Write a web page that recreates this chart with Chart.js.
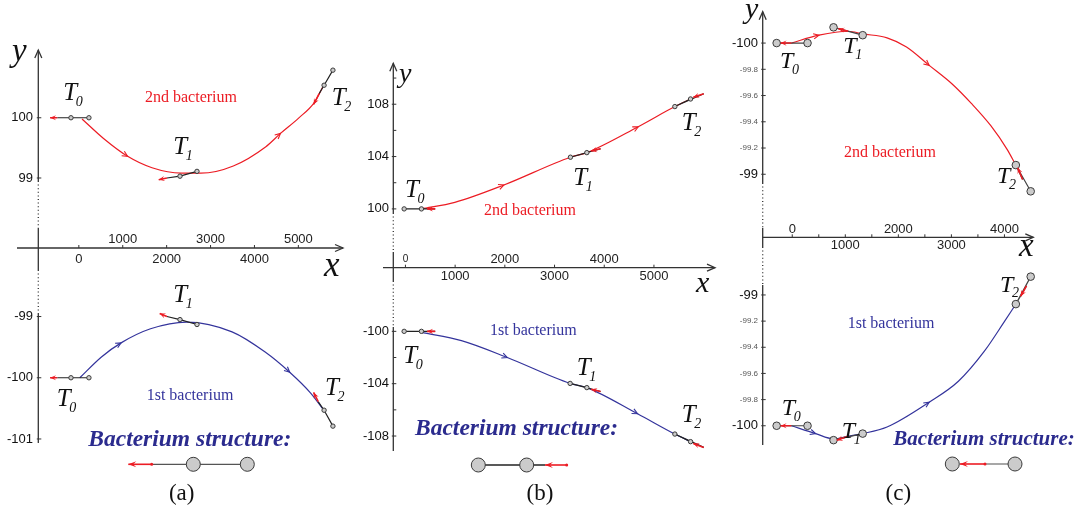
<!DOCTYPE html>
<html><head><meta charset="utf-8">
<script src="https://cdn.jsdelivr.net/npm/chart.js@4.4.1/dist/chart.umd.min.js"></script>
<style>
html,body{margin:0;padding:0;background:#fff;}
#wrap{position:relative;width:1080px;height:512px;overflow:hidden;}
canvas{position:absolute;top:0;}
</style></head><body>
<div id="wrap">
<canvas id="ca" width="360" height="512" style="left:0px"></canvas>
<canvas id="cb" width="360" height="512" style="left:360px"></canvas>
<canvas id="cc" width="360" height="512" style="left:720px"></canvas>
</div>
<script>
// ---------------- DATA ----------------
// Panel (a)
const aXTicks = [0, 1000, 2000, 3000, 4000, 5000];
const aXLabels = ['0', '1000', '2000', '3000', '4000', '5000'];
const aXAbove = [1000, 3000, 5000];
const aYTopTicks = [100, 99];
const aYTopLabels = ['100', '99'];
const aYBotTicks = [-99, -100, -101];
const aYBotLabels = ['-99', '-100', '-101'];
const aRedX = [73, 556, 1111, 1667, 2333, 2778, 3518, 4260, 4593, 5000, 5371, 5556];
const aRedY = [99.98, 99.66, 99.36, 99.17, 99.08, 99.08, 99.20, 99.52, 99.74, 99.99, 100.26, 100.51];
const aBlueX = [22, 515, 962, 1633, 2454, 3490, 4244, 4803, 5280, 5548];
const aBlueY = [-100.0, -99.66, -99.43, -99.20, -99.09, -99.25, -99.58, -99.91, -100.25, -100.50];
const aTopCellX = [[-179, 230], [2304, 2691], [5586, 5787]];
const aTopCellY = [[100, 100], [99.03, 99.11], [100.54, 100.79]];
const aTopFlagX = [[-492, -655], [2007, 1819], [5474, 5347]];
const aTopFlagY = [[100, 100], [99.0, 98.97], [100.4, 100.22]];
const aBotCellX = [[-179, 230], [2304, 2691], [5586, 5787]];
const aBotCellY = [[-100, -100], [-99.05, -99.13], [-100.53, -100.79]];
const aBotFlagX = [[-492, -655], [2007, 1841], [5452, 5347]];
const aBotFlagY = [[-100, -100], [-99.0, -98.95], [-100.39, -100.24]];

// Panel (b)
const bXTicks = [0, 1000, 2000, 3000, 4000, 5000];
const bXLabels = ['0', '1000', '2000', '3000', '4000', '5000'];
const bXAbove = [0, 2000, 4000];
const bYTopTicks = [100, 104, 108];
const bYTopLabels = ['100', '104', '108'];
const bYTopMinor = [102, 106, 110];
const bYBotTicks = [-100, -104, -108];
const bYBotLabels = ['-100', '-104', '-108'];
const bYBotMinor = [-102, -106];
const bRedX = [322, 994, 1982, 3320, 3650, 4684, 5421, 5737];
const bRedY = [100, 100.5, 101.83, 103.95, 104.3, 106.28, 107.82, 108.4];
const bBlueX = [322, 1126, 2049, 3314, 3650, 4670, 5421, 5737];
const bBlueY = [-100.08, -100.71, -102.0, -103.98, -104.3, -106.3, -107.85, -108.43];
const bTopCellX = [[-26, 322], [3320, 3650], [5421, 5737]];
const bTopCellY = [[100, 100], [103.95, 104.3], [107.82, 108.4]];
const bTopFlagX = [[599, 435], [3927, 3735], [6002, 5791]];
const bTopFlagY = [[100, 100], [104.6, 104.42], [108.8, 108.53]];
const bBotCellX = [[-26, 322], [3314, 3650], [5421, 5737]];
const bBotCellY = [[-100, -100], [-103.98, -104.3], [-107.85, -108.43]];
const bBotFlagX = [[599, 435], [3927, 3735], [6002, 5791]];
const bBotFlagY = [[-100, -100], [-104.6, -104.43], [-108.87, -108.58]];

// Panel (c)
const cXTicks = [0, 1000, 2000, 3000, 4000];
const cXLabels = ['0', '1000', '2000', '3000', '4000'];
const cXMinor = [500, 1500, 2500, 3500];
const cXAbove = [0, 2000, 4000];
const cYTopTicks = [-100, -99.8, -99.6, -99.4, -99.2, -99];
const cYTopLabels = ['-100', '-99.8', '-99.6', '-99.4', '-99.2', '-99'];
const cYBotTicks = [-99, -99.2, -99.4, -99.6, -99.8, -100];
const cYBotLabels = ['-99', '-99.2', '-99.4', '-99.6', '-99.8', '-100'];
const cRedX = [-18, 503, 1053, 1328, 1787, 2154, 2582, 3009, 3376, 3743, 4050, 4215];
const cRedY = [-100.0, -100.06, -100.09, -100.07, -100.04, -99.97, -99.83, -99.69, -99.54, -99.37, -99.19, -99.07];
const cBlueX = [-18, 440, 778, 1053, 1328, 1787, 2582, 3132, 3622, 3989, 4215];
const cBlueY = [-100.0, -100.06, -100.10, -100.08, -100.06, -100.01, -99.82, -99.66, -99.43, -99.21, -99.07];
const cTopCellX = [[-294, 288], [778, 1328], [4215, 4495]];
const cTopCellY = [[-100, -100], [-100.12, -100.06], [-99.07, -98.87]];
const cTopFlagX = [[-18, -220], [1053, 870], [4343, 4251]];
const cTopFlagY = [[-100, -100], [-100.09, -100.11], [-98.96, -99.05]];
const cBotCellX = [[-294, 288], [778, 1328], [4215, 4495]];
const cBotCellY = [[-100, -100], [-100.11, -100.06], [-99.07, -98.86]];
const cBotFlagX = [[-18, -220], [1053, 839], [4416, 4306]];
const cBotFlagY = [[-100, -100], [-100.08, -100.11], [-98.93, -99.01]];

// ---------------- STYLE / LAYOUT ----------------
const RED = '#ec1c24', BLUE = '#34349c', NAVY = '#2b2b8e', AXIS = '#333333';
const SERIF = '"Liberation Serif", "DejaVu Serif", serif';
const SANS = '"Liberation Sans", Arial, sans-serif';
const W = 360, H = 512;

function rangeX(v0, px0, ppu) { return { min: v0 - px0 / ppu, max: v0 + (W - px0) / ppu }; }
function rangeY(v0, py0, ppu, rev) {
  return rev ? { min: v0 - py0 / ppu, max: v0 + (H - py0) / ppu, reverse: true }
             : { min: v0 - (H - py0) / ppu, max: v0 + py0 / ppu };
}

function drawT(ctx, x, y, sub, size) {
  ctx.fillStyle = '#111';
  ctx.textAlign = 'left'; ctx.textBaseline = 'alphabetic';
  ctx.font = 'italic ' + size + 'px ' + SERIF;
  ctx.fillText('T', x, y);
  ctx.font = 'italic ' + Math.round(size * 0.58) + 'px ' + SERIF;
  ctx.fillText(sub, x + size * 0.5, y + size * 0.24);
}

function arrowHead(ctx, x0, y0, x1, y1, len, half, color) {
  const a = Math.atan2(y1 - y0, x1 - x0);
  ctx.fillStyle = color;
  ctx.beginPath();
  ctx.moveTo(x1, y1);
  ctx.lineTo(x1 - len * Math.cos(a) + half * Math.sin(a), y1 - len * Math.sin(a) - half * Math.cos(a));
  ctx.lineTo(x1 - len * 0.6 * Math.cos(a), y1 - len * 0.6 * Math.sin(a));
  ctx.lineTo(x1 - len * Math.cos(a) - half * Math.sin(a), y1 - len * Math.sin(a) + half * Math.cos(a));
  ctx.closePath(); ctx.fill();
}

function deco(P) {
  return {
    id: 'deco_' + P.id,
    beforeDatasetsDraw(chart) {
      const ctx = chart.ctx, xs = chart.scales.x;
      ctx.save();
      ctx.strokeStyle = AXIS; ctx.lineWidth = 1.3;
      P.ySeg.forEach(s => {
        ctx.setLineDash(s[2] ? [1, 2.6] : []);
        ctx.beginPath(); ctx.moveTo(P.ax, s[0]); ctx.lineTo(P.ax, s[1]); ctx.stroke();
      });
      ctx.setLineDash([]);
      const top = P.ySeg[0][0];
      ctx.beginPath(); ctx.moveTo(P.ax - 3.5, top + 8); ctx.lineTo(P.ax, top); ctx.lineTo(P.ax + 3.5, top + 8); ctx.stroke();
      ctx.beginPath(); ctx.moveTo(P.xFrom, P.xy); ctx.lineTo(P.xTo, P.xy); ctx.stroke();
      ctx.beginPath(); ctx.moveTo(P.xTo - 8, P.xy - 3.5); ctx.lineTo(P.xTo, P.xy); ctx.lineTo(P.xTo - 8, P.xy + 3.5); ctx.stroke();
      ctx.lineWidth = 1;
      P.xTicks.concat(P.xMinor || []).forEach(v => {
        const px = xs.getPixelForValue(v);
        ctx.beginPath(); ctx.moveTo(px, P.xy); ctx.lineTo(px, P.xy - 3); ctx.stroke();
      });
      ctx.fillStyle = '#222'; ctx.textAlign = 'center'; ctx.textBaseline = 'middle';
      P.xTicks.forEach((v, i) => {
        const px = xs.getPixelForValue(v);
        const above = P.xAbove.includes(v);
        const small = P.xSmallZero && v === 0;
        ctx.font = (small ? 10 : 13) + 'px ' + SANS;
        ctx.fillText(P.xLabels[i], px, above ? P.xy - P.labA : P.xy + P.labB);
      });
      [['yT', P.yTTicks, P.yTLabels, P.yTMinor], ['yB', P.yBTicks, P.yBLabels, P.yBMinor]].forEach(g => {
        const sc = chart.scales[g[0]];
        ctx.textAlign = 'right'; ctx.textBaseline = 'middle';
        g[1].forEach((v, i) => {
          const py = sc.getPixelForValue(v);
          ctx.beginPath(); ctx.moveTo(P.ax - 1.5, py); ctx.lineTo(P.ax + 3, py); ctx.stroke();
          const big = Number.isInteger(v);
          ctx.font = (big ? 13 : 8) + 'px ' + SANS;
          ctx.fillStyle = big ? '#111' : '#555';
          ctx.fillText(g[2][i], P.yLabRight, py);
        });
        (g[3] || []).forEach(v => {
          const py = sc.getPixelForValue(v);
          ctx.beginPath(); ctx.moveTo(P.ax, py); ctx.lineTo(P.ax + 3, py); ctx.stroke();
        });
      });
      ctx.restore();
    },
    afterDatasetsDraw(chart) {
      const ctx = chart.ctx;
      ctx.save();
      chart.data.datasets.forEach((ds, i) => {
        const m = chart.getDatasetMeta(i).data;
        if (ds.arrowIdx) {
          ds.arrowIdx.forEach(k => {
            const a = m[k - 1], p = m[k], b = m[k + 1];
            const ang = Math.atan2(b.y - a.y, b.x - a.x);
            ctx.strokeStyle = ds.borderColor; ctx.lineWidth = 1.1;
            ctx.beginPath();
            ctx.moveTo(p.x - 6 * Math.cos(ang - 0.45), p.y - 6 * Math.sin(ang - 0.45));
            ctx.lineTo(p.x, p.y);
            ctx.lineTo(p.x - 6 * Math.cos(ang + 0.45), p.y - 6 * Math.sin(ang + 0.45));
            ctx.stroke();
          });
        }
        if (ds.isFlag) arrowHead(ctx, m[0].x, m[0].y, m[1].x, m[1].y, 6, 2.6, RED);
      });
      // axis letters
      ctx.fillStyle = '#111'; ctx.textAlign = 'left'; ctx.textBaseline = 'alphabetic';
      ctx.font = 'italic ' + P.yLet[2] + 'px ' + SERIF; ctx.fillText('y', P.yLet[0], P.yLet[1]);
      ctx.font = 'italic ' + P.xLet[2] + 'px ' + SERIF; ctx.fillText('x', P.xLet[0], P.xLet[1]);
      P.tLabels.forEach(t => drawT(ctx, t[0], t[1], t[2], P.tSize));
      ctx.font = '16px ' + SERIF;
      ctx.fillStyle = RED; ctx.fillText('2nd bacterium', P.lab2[0], P.lab2[1]);
      ctx.fillStyle = BLUE; ctx.fillText('1st bacterium', P.lab1[0], P.lab1[1]);
      ctx.font = 'italic bold ' + P.structSize + 'px ' + SERIF; ctx.fillStyle = NAVY;
      ctx.fillText('Bacterium structure:', P.struct[0], P.struct[1]);
      // structure glyph
      const g = P.glyph;
      ctx.strokeStyle = g.lineColor; ctx.lineWidth = 1.3;
      ctx.beginPath(); ctx.moveTo(g.line[0], g.y); ctx.lineTo(g.line[1], g.y); ctx.stroke();
      ctx.strokeStyle = RED; ctx.lineWidth = 1.6;
      ctx.beginPath(); ctx.moveTo(g.flag[0], g.y); ctx.lineTo(g.flag[1], g.y); ctx.stroke();
      arrowHead(ctx, g.flag[0], g.y, g.flag[1], g.y, 8, 3, RED);
      ctx.fillStyle = RED; ctx.beginPath(); ctx.arc(g.flag[0], g.y, 1.5, 0, Math.PI * 2); ctx.fill();
      g.circles.forEach(cx => {
        ctx.fillStyle = '#cbcbcb'; ctx.strokeStyle = '#3a3a3a'; ctx.lineWidth = 1;
        ctx.beginPath(); ctx.arc(cx, g.y, 7, 0, Math.PI * 2); ctx.fill(); ctx.stroke();
      });
      ctx.fillStyle = '#111'; ctx.textAlign = 'center';
      ctx.font = '23px ' + SERIF; ctx.fillText(P.panel, P.panelPos[0], P.panelPos[1]);
      ctx.restore();
    }
  };
}

function mkPanel(P) {
  const ds = [];
  P.curves.forEach(c => ds.push({
    data: c.x.map((x, i) => ({ x: x, y: c.y[i] })), yAxisID: c.axis,
    borderColor: c.color, borderWidth: 1.2, pointRadius: 0, pointHoverRadius: 0,
    cubicInterpolationMode: 'monotone', fill: false, order: 3, arrowIdx: c.arrows
  }));
  P.cells.forEach(c => {
    for (let i = 0; i < c.cx.length; i++) {
      ds.push({
        data: [{ x: c.fx[i][0], y: c.fy[i][0] }, { x: c.cx[i][0], y: c.cy[i][0] }, { x: c.cx[i][1], y: c.cy[i][1] }],
        yAxisID: c.axis, borderColor: P.cellLine, borderWidth: 1.2, tension: 0,
        pointRadius: [0, P.r, P.r], pointHoverRadius: 0, pointBackgroundColor: '#cbcbcb',
        pointBorderColor: '#3a3a3a', pointBorderWidth: 1, order: 2
      });
      ds.push({
        data: [{ x: c.fx[i][0], y: c.fy[i][0] }, { x: c.fx[i][1], y: c.fy[i][1] }],
        yAxisID: c.axis, borderColor: RED, borderWidth: 1.6, tension: 0,
        pointRadius: 0, pointHoverRadius: 0, order: 1, isFlag: true
      });
    }
  });
  new Chart(document.getElementById(P.id), {
    type: 'line',
    data: { datasets: ds },
    options: {
      responsive: false, animation: false, devicePixelRatio: 1, events: [],
      layout: { padding: 0 },
      plugins: { legend: { display: false }, tooltip: { enabled: false } },
      scales: {
        x: Object.assign({ type: 'linear', display: false }, P.xr),
        yT: Object.assign({ type: 'linear', display: false }, P.yTr),
        yB: Object.assign({ type: 'linear', display: false }, P.yBr)
      }
    },
    plugins: [deco(P)]
  });
}

mkPanel({
  id: 'ca', r: 2.2, cellLine: '#222',
  xr: rangeX(0, 77, 0.0447), yTr: rangeY(100, 116, 61, false), yBr: rangeY(-99, 317.3, 62, false),
  curves: [
    { x: aRedX, y: aRedY, axis: 'yT', color: RED, arrows: [2, 8] },
    { x: aBlueX, y: aBlueY, axis: 'yB', color: BLUE, arrows: [2, 7] }
  ],
  cells: [
    { cx: aTopCellX, cy: aTopCellY, fx: aTopFlagX, fy: aTopFlagY, axis: 'yT' },
    { cx: aBotCellX, cy: aBotCellY, fx: aBotFlagX, fy: aBotFlagY, axis: 'yB' }
  ],
  ax: 38.3, xy: 248, xFrom: 17, xTo: 343,
  ySeg: [[50, 181, 0], [181, 228, 1], [228, 270, 0], [270, 313, 1], [313, 443, 0]],
  xTicks: aXTicks, xLabels: aXLabels, xAbove: aXAbove, labA: 9, labB: 11,
  yTTicks: aYTopTicks, yTLabels: aYTopLabels, yBTicks: aYBotTicks, yBLabels: aYBotLabels, yLabRight: 33,
  yLet: [12, 61, 33], xLet: [324, 276, 35],
  tSize: 25,
  tLabels: [[63.3, 100, '0'], [173.3, 154, '1'], [331.7, 105, '2'], [56.7, 406, '0'], [173.3, 301.7, '1'], [325, 395, '2']],
  lab2: [145, 101.7], lab1: [146.7, 400], struct: [88.3, 445.7], structSize: 23.5,
  glyph: { y: 464.3, line: [151.7, 247.3], flag: [151.7, 128.3], circles: [193.3, 247.3], lineColor: '#555' },
  panel: '(a)', panelPos: [181.7, 500]
});

mkPanel({
  id: 'cb', r: 2.2, cellLine: '#222',
  xr: rangeX(0, 43, 0.0506), yTr: rangeY(100, 208.3, 13.25, false), yBr: rangeY(-100, 332.3, 13.25, false),
  curves: [
    { x: bRedX, y: bRedY, axis: 'yT', color: RED, arrows: [2, 5] },
    { x: bBlueX, y: bBlueY, axis: 'yB', color: BLUE, arrows: [2, 5] }
  ],
  cells: [
    { cx: bTopCellX, cy: bTopCellY, fx: bTopFlagX, fy: bTopFlagY, axis: 'yT' },
    { cx: bBotCellX, cy: bBotCellY, fx: bBotFlagX, fy: bBotFlagY, axis: 'yB' }
  ],
  ax: 33.3, xy: 267.7, xFrom: 23, xTo: 355,
  ySeg: [[63.3, 213, 0], [213, 252, 1], [252, 281, 0], [281, 327, 1], [327, 451, 0]],
  xTicks: bXTicks, xLabels: bXLabels, xAbove: bXAbove, labA: 8, labB: 9, xSmallZero: true,
  yTTicks: bYTopTicks, yTLabels: bYTopLabels, yTMinor: bYTopMinor,
  yBTicks: bYBotTicks, yBLabels: bYBotLabels, yBMinor: bYBotMinor, yLabRight: 29,
  yLet: [39, 82, 28], xLet: [336, 292, 30],
  tSize: 25,
  tLabels: [[45, 196.7, '0'], [213.3, 185, '1'], [321.7, 130, '2'], [43.3, 363.3, '0'], [216.7, 375, '1'], [321.7, 421.7, '2']],
  lab2: [124, 215], lab1: [130, 335], struct: [55, 435], structSize: 23.5,
  glyph: { y: 465, line: [118.3, 185], flag: [206.7, 185], circles: [118.3, 166.7], lineColor: '#222' },
  panel: '(b)', panelPos: [180, 500]
});

mkPanel({
  id: 'cc', r: 3.8, cellLine: '#444',
  xr: rangeX(0, 69.3, 0.0545), yTr: rangeY(-100, 39, 133.7, true), yBr: rangeY(-99, 295.7, 133.3, false),
  curves: [
    { x: cRedX, y: cRedY, axis: 'yT', color: RED, arrows: [1, 6] },
    { x: cBlueX, y: cBlueY, axis: 'yB', color: BLUE, arrows: [1, 6] }
  ],
  cells: [
    { cx: cTopCellX, cy: cTopCellY, fx: cTopFlagX, fy: cTopFlagY, axis: 'yT' },
    { cx: cBotCellX, cy: cBotCellY, fx: cBotFlagX, fy: cBotFlagY, axis: 'yB' }
  ],
  ax: 42.7, xy: 237.3, xFrom: 42.7, xTo: 313.3,
  ySeg: [[11.7, 183, 0], [183, 228, 1], [228, 247, 0], [247, 285, 1], [285, 445, 0]],
  xTicks: cXTicks, xLabels: cXLabels, xMinor: cXMinor, xAbove: cXAbove, labA: 7.5, labB: 8.5,
  yTTicks: cYTopTicks, yTLabels: cYTopLabels, yBTicks: cYBotTicks, yBLabels: cYBotLabels, yLabRight: 38,
  yLet: [25, 18, 30], xLet: [299, 256, 33],
  tSize: 24,
  tLabels: [[60, 68.3, '0'], [123.3, 53.3, '1'], [277, 183.3, '2'], [61.7, 415, '0'], [121.7, 438.3, '1'], [280, 291.7, '2']],
  lab2: [124, 157.3], lab1: [127.7, 328.3], struct: [173.3, 445], structSize: 21,
  glyph: { y: 464, line: [265, 295], flag: [265, 240], circles: [232.3, 295], lineColor: '#777' },
  panel: '(c)', panelPos: [178.3, 500]
});
</script>
</body></html>
